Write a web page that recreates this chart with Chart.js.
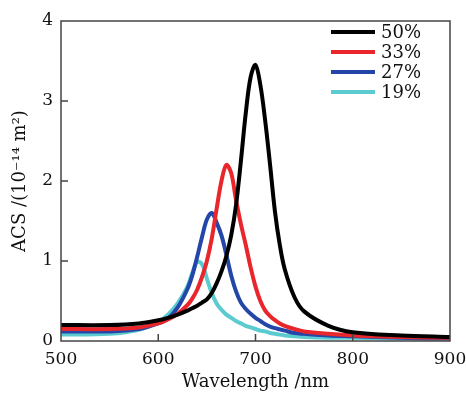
<!DOCTYPE html>
<html>
<head>
<meta charset="utf-8">
<script src="https://cdn.jsdelivr.net/npm/chart.js@4"></script>
<style>
  html, body { margin: 0; padding: 0; background: #fff; }
  #wrap { width: 466px; height: 393px; }
</style>
</head>
<body>
<div id="wrap"><canvas id="myChart"></canvas></div>
<script>
// wavelength grid (nm) shared by every curve
const wavelength = [500, 550, 580, 600, 610, 620, 630, 635, 640, 645, 650, 655, 660, 665, 670, 675,
                    680, 685, 690, 695, 700, 705, 710, 715, 720, 725, 730, 740, 750, 775, 800, 850, 900];

// ACS values (10^-14 m^2)
const acs50 = [0.20, 0.20, 0.22, 0.26, 0.29, 0.33, 0.38, 0.41, 0.44, 0.48, 0.52, 0.60, 0.72, 0.87, 1.06, 1.32,
               1.70, 2.25, 2.85, 3.30, 3.45, 3.20, 2.75, 2.20, 1.62, 1.20, 0.90, 0.55, 0.37, 0.19, 0.11, 0.07, 0.05];
const acs33 = [0.15, 0.15, 0.17, 0.22, 0.27, 0.34, 0.45, 0.53, 0.64, 0.80, 1.00, 1.28, 1.65, 2.00, 2.20, 2.10,
               1.76, 1.46, 1.20, 0.92, 0.68, 0.50, 0.38, 0.31, 0.26, 0.22, 0.19, 0.15, 0.12, 0.09, 0.07, 0.05, 0.04];
const acs27 = [0.12, 0.12, 0.15, 0.22, 0.28, 0.42, 0.65, 0.82, 1.05, 1.30, 1.52, 1.60, 1.48, 1.32, 1.08, 0.82,
               0.62, 0.48, 0.40, 0.34, 0.29, 0.25, 0.21, 0.18, 0.16, 0.145, 0.13, 0.10, 0.09, 0.07, 0.06, 0.04, 0.03];
const acs19 = [0.08, 0.09, 0.14, 0.24, 0.33, 0.47, 0.68, 0.85, 0.99, 0.96, 0.78, 0.60, 0.47, 0.39, 0.33, 0.29,
               0.25, 0.22, 0.19, 0.17, 0.15, 0.13, 0.12, 0.10, 0.09, 0.08, 0.07, 0.06, 0.05, 0.04, 0.04, 0.03, 0.03];

const seriesLabels = ['50%', '33%', '27%', '19%'];
const seriesColors = ['#000000', '#e8262c', '#2346a8', '#5ccbd0'];
const yTicks = [1, 2, 3];
const xTicks = [600, 700, 800];

const FONT = "'DejaVu Serif', 'Liberation Serif', serif";

function pts(ys) {
    return wavelength.map((w, i) => ({ x: w, y: ys[i] }));
}

// frame, inward ticks and legend
const decor = {
    id: 'decor',
    afterDraw(chart) {
        const { ctx, chartArea: a, scales: { x, y } } = chart;
        ctx.save();
        ctx.strokeStyle = '#444';
        ctx.lineWidth = 1.5;
        ctx.strokeRect(a.left, a.top, a.right - a.left, a.bottom - a.top);
        ctx.beginPath();
        yTicks.forEach(v => {
            const py = y.getPixelForValue(v);
            ctx.moveTo(a.left, py);
            ctx.lineTo(a.left + 7, py);
        });
        xTicks.forEach(v => {
            const px = x.getPixelForValue(v);
            ctx.moveTo(px, a.bottom);
            ctx.lineTo(px, a.bottom - 7);
        });
        ctx.stroke();

        ctx.font = '18px ' + FONT;
        ctx.textBaseline = 'middle';
        ctx.textAlign = 'left';
        seriesLabels.forEach((lab, i) => {
            const ly = 32 + i * 20;
            ctx.strokeStyle = seriesColors[i];
            ctx.lineWidth = 4;
            ctx.beginPath();
            ctx.moveTo(331, ly);
            ctx.lineTo(375, ly);
            ctx.stroke();
            ctx.fillStyle = '#111';
            ctx.fillText(lab, 381, ly + 1);
        });
        ctx.restore();
    }
};

const ctx = document.getElementById('myChart');
const myChart = new Chart(ctx, {
    type: 'line',
    data: {
        datasets: seriesLabels.map((lab, i) => ({
            label: lab,
            data: pts([acs50, acs33, acs27, acs19][i]),
            borderColor: seriesColors[i],
            borderWidth: 4,
            pointRadius: 0,
            tension: 0.35,
            fill: false
        }))
    },
    options: {
        responsive: true,
        maintainAspectRatio: false,
        animation: false,
        layout: { padding: { top: 21, right: 0, left: 0, bottom: 0 } },
        plugins: { legend: { display: false }, tooltip: { enabled: false } },
        scales: {
            x: {
                type: 'linear',
                min: 500,
                max: 900,
                grid: { display: false, drawTicks: false },
                border: { display: false },
                ticks: { stepSize: 100, padding: 8, color: '#111', font: { family: FONT, size: 17 } },
                title: {
                    display: true,
                    text: 'Wavelength /nm',
                    color: '#111',
                    padding: { top: 0, bottom: 0 },
                    font: { family: FONT, size: 18 }
                },
                afterFit(scale) { scale.height = 52; scale.paddingRight = 16; }
            },
            y: {
                min: 0,
                max: 4,
                grid: { display: false, drawTicks: false },
                border: { display: false },
                ticks: { stepSize: 1, padding: 8, color: '#111', font: { family: FONT, size: 17 } },
                title: {
                    display: true,
                    text: 'ACS /(10⁻¹⁴ m²)',
                    color: '#111',
                    padding: { top: 10, bottom: 0 },
                    font: { family: FONT, size: 18 }
                },
                afterFit(scale) { scale.width = 61; }
            }
        }
    },
    plugins: [decor]
});
</script>
</body>
</html>
